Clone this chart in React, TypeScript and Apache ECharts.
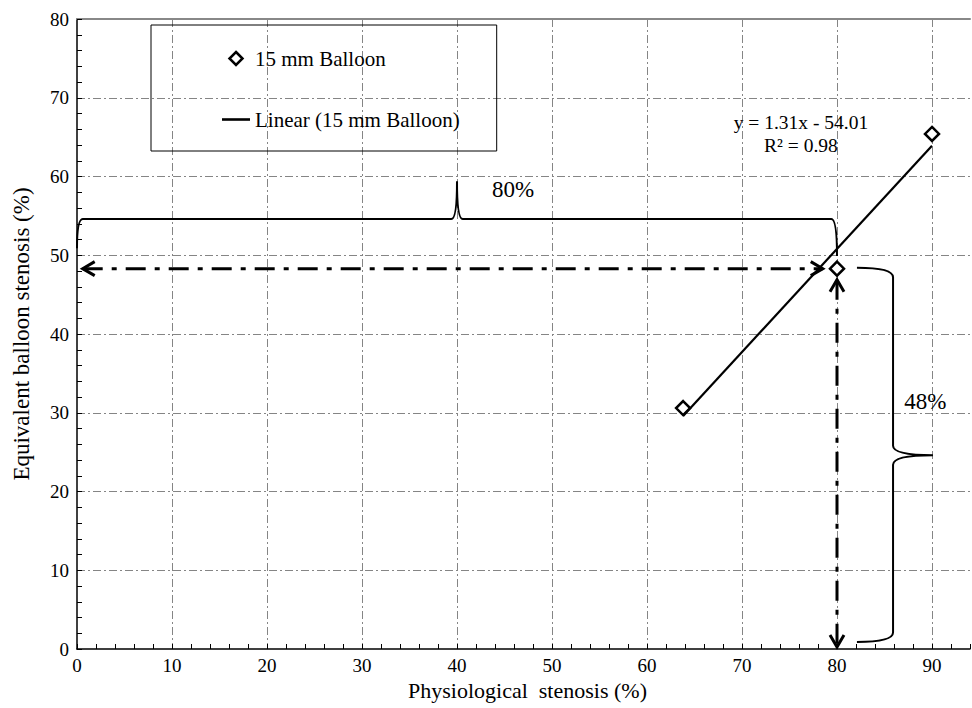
import { useEffect, useRef } from "react";
import * as echarts from "echarts";

// ---- data ----
const scatterName = "15 mm Balloon";
const trendName = "Linear (15 mm Balloon)";
const pointX = [63.8, 80, 90];
const pointY = [30.6, 48.3, 65.4];
const trendX = [63.8, 90];
const trendY = [29.6, 63.9];
const equationLines = ["y = 1.31x - 54.01", "R² = 0.98"];
const equationPos = [76.2, 66.9, 63.9]; // x, y of line 1, y of line 2
const topBraceX = [0, 0.6, 39.4, 40, 40.6, 79.4, 80];
const topBraceY = [50.9, 54.6, 54.6, 59.4, 54.6, 54.6, 49.9];
const rightBraceX = [82.1, 85.9, 85.9, 90.1, 85.9, 85.9, 82.1];
const rightBraceY = [48.4, 47.2, 25.8, 24.6, 23.4, 2.1, 0.9];
const arrowH = [0.6, 48.3, 78.5, 48.3];
const arrowV = [80, 46.9, 80, 0.25];
const label80 = ["80%", 45.9, 58.3];
const label48 = ["48%", 89.3, 31.4];

const FONT = "Liberation Serif";
const gridStyle = { color: "#858585", width: 1, type: [8, 3, 2, 3] as number[] };

function App() {
  const ref = useRef<HTMLDivElement>(null);
  useEffect(() => {
    if (!ref.current) return;
    const chart = echarts.init(ref.current, null, { renderer: "svg" });

    const pt = (api: any, x: number, y: number) => api.coord([x, y]);

    const braceTop = (params: any, api: any) => {
      const p = topBraceX.map((x, i) => pt(api, x, topBraceY[i]));
      const d =
        `M${p[0][0]},${p[0][1]} Q${p[0][0]},${p[1][1]} ${p[1][0]},${p[1][1]} ` +
        `L${p[2][0]},${p[2][1]} Q${p[3][0]},${p[2][1]} ${p[3][0]},${p[3][1]} ` +
        `Q${p[3][0]},${p[4][1]} ${p[4][0]},${p[4][1]} ` +
        `L${p[5][0]},${p[5][1]} Q${p[6][0]},${p[5][1]} ${p[6][0]},${p[6][1]}`;
      return {
        type: "path",
        shape: { pathData: d },
        style: { stroke: "#000", fill: "none", lineWidth: 2 },
      };
    };
    const braceRight = (params: any, api: any) => {
      const p = rightBraceX.map((x, i) => pt(api, x, rightBraceY[i]));
      const d =
        `M${p[0][0]},${p[0][1]} Q${p[1][0]},${p[0][1]} ${p[1][0]},${p[1][1]} ` +
        `L${p[2][0]},${p[2][1]} Q${p[2][0]},${p[3][1]} ${p[3][0]},${p[3][1]} ` +
        `Q${p[4][0]},${p[3][1]} ${p[4][0]},${p[4][1]} ` +
        `L${p[5][0]},${p[5][1]} Q${p[5][0]},${p[6][1]} ${p[6][0]},${p[6][1]}`;
      return {
        type: "path",
        shape: { pathData: d },
        style: { stroke: "#000", fill: "none", lineWidth: 2 },
      };
    };
    const chevron = (tip: number[], from: number[]) => {
      const dx = tip[0] - from[0];
      const dy = tip[1] - from[1];
      const len = Math.sqrt(dx * dx + dy * dy) || 1;
      const ux = dx / len;
      const uy = dy / len;
      const L = 12;
      const W = 7;
      const bx = tip[0] - ux * L;
      const by = tip[1] - uy * L;
      return {
        type: "polyline",
        shape: {
          points: [
            [bx - uy * W, by + ux * W],
            [tip[0], tip[1]],
            [bx + uy * W, by - ux * W],
          ],
        },
        style: { stroke: "#000", fill: "none", lineWidth: 3 },
      };
    };
    const arrow = (a: number[]) => (params: any, api: any) => {
      const p1 = pt(api, a[0], a[1]);
      const p2 = pt(api, a[2], a[3]);
      return {
        type: "group",
        children: [
          {
            type: "line",
            shape: { x1: p1[0], y1: p1[1], x2: p2[0], y2: p2[1] },
            style: { stroke: "#000", lineWidth: 3, lineDash: [20, 9, 5, 9] },
          },
          chevron(p1, p2),
          chevron(p2, p1),
        ],
      };
    };
    const textItem = (txt: string, x: number, y: number, size: number) => ({
      type: "text",
      x,
      y,
      style: {
        text: txt,
        fontSize: size,
        fontFamily: FONT,
        fill: "#000",
        align: "center",
        verticalAlign: "middle",
        textAlign: "center",
        textVerticalAlign: "middle",
      },
    });
    const texts = (params: any, api: any) => {
      const e1 = pt(api, equationPos[0], equationPos[1]);
      const e2 = pt(api, equationPos[0], equationPos[2]);
      const l1 = pt(api, label80[1] as number, label80[2] as number);
      const l2 = pt(api, label48[1] as number, label48[2] as number);
      return {
        type: "group",
        children: [
          textItem(equationLines[0], e1[0], e1[1], 19.5),
          textItem(equationLines[1], e2[0], e2[1], 19.5),
          textItem(label80[0] as string, l1[0], l1[1], 23),
          textItem(label48[0] as string, l2[0], l2[1], 23),
        ],
      };
    };

    const custom = (fn: any) => ({
      type: "custom",
      coordinateSystem: "cartesian2d",
      xAxisIndex: 0,
      yAxisIndex: 0,
      silent: true,
      data: [[0, 0]],
      renderItem: fn,
    });

    chart.setOption({
      animation: false,
      grid: { left: 77, right: 2, top: 19, bottom: 59 },
      legend: {
        data: [
          {
            name: scatterName,
            icon: "path://M10,0 L20,10 L10,20 L0,10 Z",
            itemStyle: { color: "#fff", borderColor: "#000", borderWidth: 2.5 },
          },
          {
            name: trendName,
            icon: "path://M0,0 H28 V2.6 H0 Z",
            itemStyle: { color: "#000", borderWidth: 0 },
          },
        ],
        orient: "vertical",
        left: 151,
        top: 25,
        padding: [23, 37, 21, 71],
        itemGap: 40,
        itemWidth: 28,
        itemHeight: 13,
        symbolKeepAspect: true,
        borderColor: "#000",
        borderWidth: 1,
        selectedMode: false,
        textStyle: { fontSize: 21, fontFamily: FONT, color: "#000" },
      },
      xAxis: [
        {
          type: "value",
          min: 0,
          max: 94,
          interval: 10,
          name: "Physiological  stenosis (%)",
          nameLocation: "middle",
          nameGap: 30,
          nameTextStyle: { fontSize: 22, fontFamily: FONT, color: "#000", padding: [0, 0, 0, 8] },
          axisLine: { show: true, lineStyle: { color: "#000", width: 1.5 } },
          axisTick: { show: false },
          axisLabel: {
            fontSize: 19,
            fontFamily: FONT,
            color: "#000",
            margin: 7,
            showMaxLabel: false,
          },
          splitLine: { show: true, lineStyle: gridStyle, showMinLine: false, showMaxLine: false },
        },
        {
          type: "value",
          min: 0,
          max: 94,
          interval: 2,
          position: "bottom",
          axisLine: { show: false },
          axisTick: { show: true, inside: true, length: 5, lineStyle: { color: "#000", width: 1 } },
          axisLabel: { show: false },
          splitLine: { show: false },
        },
        {
          type: "value",
          min: 0,
          max: 94,
          position: "top",
          axisLine: { show: true, lineStyle: { color: "#888", width: 2 } },
          axisTick: { show: false },
          axisLabel: { show: false },
          splitLine: { show: false },
        },
      ],
      yAxis: [
        {
          type: "value",
          min: 0,
          max: 80,
          interval: 10,
          name: "Equivalent balloon stenosis (%)",
          nameLocation: "middle",
          nameGap: 44,
          nameTextStyle: { fontSize: 23, fontFamily: FONT, color: "#000" },
          axisLine: { show: true, lineStyle: { color: "#000", width: 1.5 } },
          axisTick: { show: true, inside: true, length: 5, lineStyle: { color: "#000", width: 1 } },
          minorTick: { show: true, splitNumber: 5, length: 5, lineStyle: { color: "#000", width: 1 } },
          axisLabel: { fontSize: 19, fontFamily: FONT, color: "#000", margin: 8 },
          splitLine: { show: true, lineStyle: gridStyle, showMinLine: false, showMaxLine: false },
        },
      ],
      series: [
        custom(braceTop),
        custom(braceRight),
        custom(arrow(arrowH)),
        custom(arrow(arrowV)),
        custom(texts),
        {
          name: trendName,
          type: "line",
          data: trendX.map((x, i) => [x, trendY[i]]),
          symbol: "none",
          lineStyle: { color: "#000", width: 2.2 },
          itemStyle: { color: "#000" },
        },
        {
          name: scatterName,
          type: "scatter",
          data: pointX.map((x, i) => [x, pointY[i]]),
          symbol: "diamond",
          symbolSize: 14,
          itemStyle: { color: "#fff", borderColor: "#000", borderWidth: 2.5, opacity: 1 },
        },
      ],
    });
    return () => chart.dispose();
  }, []);
  return (
    <div
      ref={ref}
      style={{ position: "absolute", left: 0, top: 0, width: 972, height: 708, background: "#fff" }}
    />
  );
}

export default App;
